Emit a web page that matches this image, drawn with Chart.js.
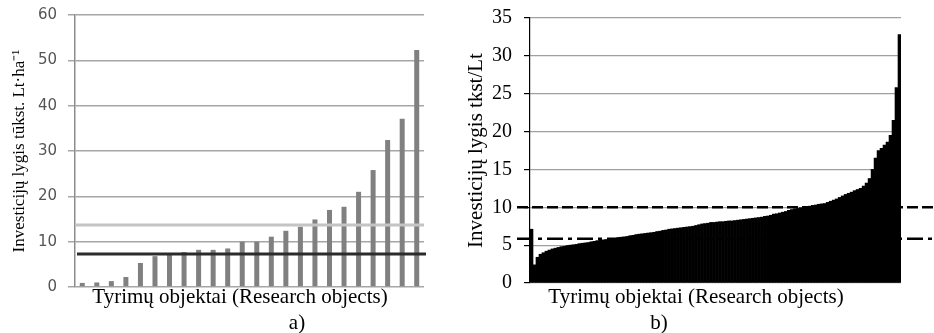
<!DOCTYPE html>
<html>
<head>
<meta charset="utf-8">
<script src="https://cdn.jsdelivr.net/npm/chart.js@4"></script>
<style>
  body { margin: 0; background: #fff; }
  .wrap { position: absolute; top: 0; height: 333px; }
  #wa { left: 0; width: 440px; }
  #wb { left: 440px; width: 494px; }
</style>
</head>
<body>
<div class="wrap" id="wa"><canvas id="chartA"></canvas></div>
<div class="wrap" id="wb"><canvas id="chartB"></canvas></div>
<script>
// chart a) - 24 research objects, sorted
const valuesA = [0.9, 1.0, 1.3, 2.2, 5.3, 6.8, 7.2, 7.7, 8.2, 8.2, 8.5, 10.0,
                 10.0, 11.1, 12.4, 13.3, 14.9, 17.0, 17.7, 21.0, 25.8, 32.4, 37.1, 52.3];
const refLinesA = [13.7, 7.3];        // light grey, dark
const ticksA = [0, 10, 20, 30, 40, 50, 60];

// chart b) - many objects, sorted
const valuesB = [7.1, 2.4, 3.4, 3.8, 4.0, 4.2, 4.35, 4.5, 4.6, 4.7, 4.8, 4.85, 4.95, 5.0, 5.05, 5.1,
  5.2, 5.25, 5.3, 5.35, 5.45, 5.5, 5.6, 5.65, 5.7, 5.75, 5.8, 5.85, 5.9, 6.0, 6.05, 6.1,
  6.15, 6.25, 6.3, 6.4, 6.45, 6.5, 6.55, 6.6, 6.65, 6.7, 6.8, 6.85, 6.95, 7.0, 7.1, 7.15,
  7.2, 7.25, 7.3, 7.35, 7.4, 7.45, 7.5, 7.6, 7.7, 7.8, 7.85, 7.9, 8.0, 8.0, 8.05, 8.1,
  8.1, 8.15, 8.2, 8.2, 8.25, 8.3, 8.35, 8.4, 8.45, 8.5, 8.55, 8.6, 8.65, 8.7, 8.8, 8.85,
  8.95, 9.1, 9.15, 9.25, 9.35, 9.45, 9.6, 9.7, 9.8, 9.85, 9.95, 10.0, 10.1, 10.15, 10.25, 10.3,
  10.4, 10.45, 10.5, 10.65, 10.8, 10.95, 11.1, 11.3, 11.5, 11.7, 11.85, 12.0, 12.2, 12.35, 12.5, 12.8,
  13.2, 13.8, 15.0, 16.5, 17.5, 17.8, 18.2, 18.6, 19.5, 21.5, 25.8, 32.8];
const refLinesB = [10, 5.85];
const ticksB = [0, 5, 10, 15, 20, 25, 30, 35];

const labelsA = valuesA.map((v, i) => String(i + 1));
const labelsB = valuesB.map((v, i) => String(i + 1));

const xTitle = 'Tyrimų objektai (Research objects)';
const serif = '"Liberation Serif", "Times New Roman", serif';

// horizontal reference lines drawn on top of the bars
const refLines = {
  id: 'refLines',
  afterDatasetsDraw(chart, args, opts) {
    const c = chart.ctx, y = chart.scales.y, a = chart.chartArea;
    opts.lines.forEach(l => {
      const py = y.getPixelForValue(l.value);
      c.save();
      c.strokeStyle = l.color;
      c.lineWidth = l.width;
      c.setLineDash(l.dash || []);
      c.beginPath();
      c.moveTo(a.left + l.from, py);
      c.lineTo(a.right + l.to, py);
      c.stroke();
      c.restore();
    });
  }
};

// x axis caption and panel letter, placed like in the paper figure
const captions = {
  id: 'captions',
  afterDraw(chart, args, opts) {
    const c = chart.ctx;
    c.save();
    c.fillStyle = '#000';
    c.textAlign = 'center';
    c.textBaseline = 'middle';
    opts.items.forEach(t => {
      c.font = t.size + 'px ' + serif;
      c.fillText(t.text, t.x, t.y);
    });
    c.restore();
  }
};

// fixed axis width, no extra label padding above/below the plot
const fixY = w => s => { s.width = w; s.paddingTop = 0; s.paddingBottom = 0; };

new Chart(document.getElementById('chartA'), {
  type: 'bar',
  data: {
    labels: labelsA,
    datasets: [{ data: valuesA, backgroundColor: '#808080', borderWidth: 0,
                 categoryPercentage: 0.4, barPercentage: 0.86 }]
  },
  plugins: [refLines, captions],
  options: {
    responsive: true,
    maintainAspectRatio: false,
    animation: false,
    layout: { padding: { top: 15, right: 16, bottom: 26, left: 0 } },
    plugins: {
      legend: { display: false },
      tooltip: { enabled: false },
      refLines: { lines: [
        { value: refLinesA[0], color: '#c4c4c4', width: 3, from: 0, to: 0 },
        { value: refLinesA[1], color: '#2b2b2b', width: 3, from: 2, to: 2 }
      ] },
      captions: { items: [
        { text: xTitle, x: 240, y: 297, size: 21 },
        { text: 'a)', x: 297, y: 323, size: 21 }
      ] }
    },
    scales: {
      x: {
        grid: { display: false, drawTicks: false },
        border: { display: false },
        ticks: { display: false },
        afterFit: s => { s.height = 20; }
      },
      y: {
        min: ticksA[0], max: ticksA[ticksA.length - 1],
        afterBuildTicks: s => { s.ticks = ticksA.map(v => ({ value: v })); },
        grid: { color: '#a6a6a6', tickColor: '#a6a6a6', tickLength: 7, lineWidth: 1.5 },
        border: { color: '#8c8c8c', width: 1.5 },
        ticks: { color: '#555', padding: 11, font: { family: '"DejaVu Sans"', size: 15 } },
        title: { display: true, text: 'Investicijų lygis tūkst. Lt·ha⁻¹', color: '#000',
                 font: { family: serif, size: 17, lineHeight: 1 }, padding: { top: 11, bottom: 0 } },
        afterFit: fixY(75)
      }
    }
  }
});

new Chart(document.getElementById('chartB'), {
  type: 'bar',
  data: {
    labels: labelsB,
    datasets: [{ data: valuesB, backgroundColor: '#000', borderWidth: 0,
                 categoryPercentage: 1, barPercentage: 1 }]
  },
  plugins: [refLines, captions],
  options: {
    responsive: true,
    maintainAspectRatio: false,
    animation: false,
    layout: { padding: { top: 18, right: 33, bottom: 27, left: 0 } },
    plugins: {
      legend: { display: false },
      tooltip: { enabled: false },
      refLines: { lines: [
        { value: refLinesB[0], color: '#000', width: 2.5, dash: [11, 4], from: -13, to: 40 },
        { value: refLinesB[1], color: '#000', width: 2.5, dash: [16, 5, 4, 5], from: -13, to: 40 }
      ] },
      captions: { items: [
        { text: xTitle, x: 256, y: 297, size: 21 },
        { text: 'b)', x: 219, y: 323, size: 21 }
      ] }
    },
    scales: {
      x: {
        grid: { display: false, drawTicks: false },
        border: { display: false },
        ticks: { display: false },
        afterFit: s => { s.height = 23; }
      },
      y: {
        min: ticksB[0], max: ticksB[ticksB.length - 1],
        afterBuildTicks: s => { s.ticks = ticksB.map(v => ({ value: v })); },
        grid: { color: '#a0a0a0', tickColor: '#000', tickLength: 6, lineWidth: 1.2 },
        border: { color: '#000', width: 1.2 },
        ticks: { color: '#000', padding: 12, font: { family: serif, size: 20 } },
        title: { display: true, text: 'Investicijų lygis tkst/Lt', color: '#000',
                 font: { family: serif, size: 21, lineHeight: 1 }, padding: { top: 26, bottom: 0 } },
        afterFit: fixY(90)
      }
    }
  }
});
</script>
</body>
</html>
